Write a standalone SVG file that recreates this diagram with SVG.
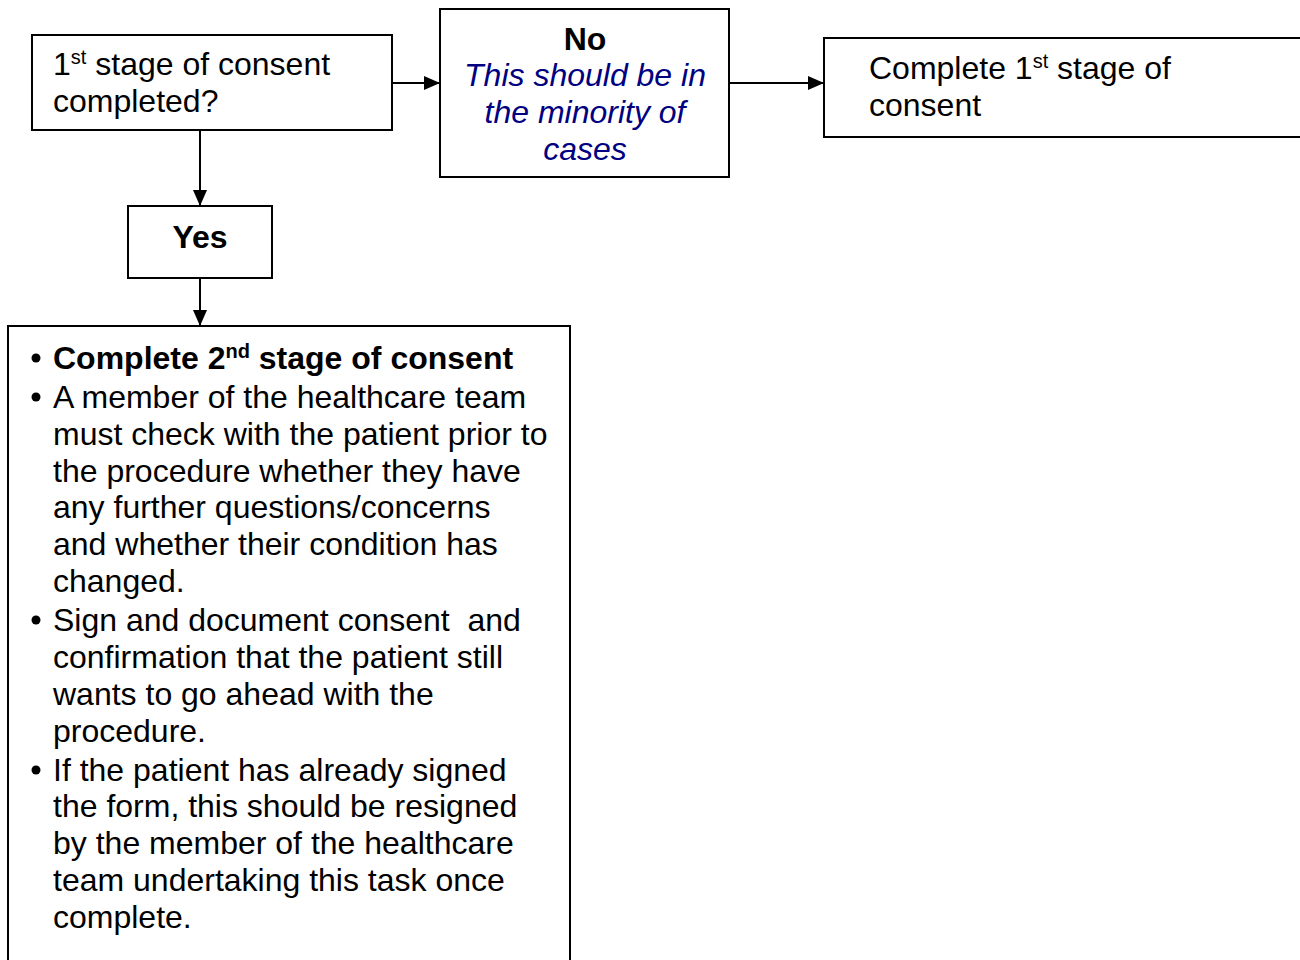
<svg xmlns="http://www.w3.org/2000/svg" width="1300" height="960" viewBox="0 0 1300 960">
<style>
.box{fill:#fff;stroke:#000;stroke-width:2}
.t{font-family:"Liberation Sans",Arial,sans-serif;font-size:32px;fill:#000}
.b{font-weight:bold}
.it{font-style:italic;fill:#000080}
.sup{font-size:20px}
.conn{stroke:#000;stroke-width:2;fill:none}
.dot{fill:#000}
</style>
<defs>
<marker id="arr" markerUnits="userSpaceOnUse" markerWidth="16" markerHeight="16" viewBox="0 0 16 16" refX="16" refY="8" orient="auto">
<path d="M0,1 L16,8 L0,15 z" fill="#000"/>
</marker>
</defs>
<rect width="1300" height="960" fill="#fff"/>
<g id="connectors">
<line class="conn" x1="393" y1="83" x2="440" y2="83" marker-end="url(#arr)"/>
<line class="conn" x1="729" y1="83" x2="824" y2="83" marker-end="url(#arr)"/>
<line class="conn" x1="200" y1="131" x2="200" y2="206" marker-end="url(#arr)"/>
<line class="conn" x1="200" y1="279" x2="200" y2="326" marker-end="url(#arr)"/>
</g>
<g id="q1">
<rect class="box" x="32" y="35" width="360" height="95"/>
<text class="t" x="53" y="75">1<tspan class="sup" dy="-11">st</tspan><tspan dy="11"> stage of consent</tspan></text>
<text class="t" x="53" y="112">completed?</text>
</g>
<g id="no">
<rect class="box" x="440" y="9" width="289" height="168"/>
<text class="t b" x="585" y="50" text-anchor="middle">No</text>
<text class="t it" x="585" y="86" text-anchor="middle">This should be in</text>
<text class="t it" x="585" y="123" text-anchor="middle">the minority of</text>
<text class="t it" x="585" y="160" text-anchor="middle">cases</text>
</g>
<g id="complete1">
<rect class="box" x="824" y="38" width="490" height="99"/>
<text class="t" x="869" y="79">Complete 1<tspan class="sup" dy="-11">st</tspan><tspan dy="11"> stage of</tspan></text>
<text class="t" x="869" y="116">consent</text>
</g>
<g id="yes">
<rect class="box" x="128" y="206" width="144" height="72"/>
<text class="t b" x="200" y="248" text-anchor="middle">Yes</text>
</g>
<g id="stage2">
<rect class="box" x="8" y="326" width="562" height="650"/>
<circle class="dot" cx="36" cy="358" r="4.5"/>
<text class="t b" x="53" y="369">Complete 2<tspan class="sup" dy="-11">nd</tspan><tspan dy="11"> stage of consent</tspan></text>
<circle class="dot" cx="36" cy="397" r="4.5"/>
<text class="t" x="53" y="408">A member of the healthcare team</text>
<text class="t" x="53" y="445">must check with the patient prior to</text>
<text class="t" x="53" y="482">the procedure whether they have</text>
<text class="t" x="53" y="518">any further questions/concerns</text>
<text class="t" x="53" y="555">and whether their condition has</text>
<text class="t" x="53" y="592">changed.</text>
<circle class="dot" cx="36" cy="620" r="4.5"/>
<text class="t" x="53" y="631" xml:space="preserve">Sign and document consent  and</text>
<text class="t" x="53" y="668">confirmation that the patient still</text>
<text class="t" x="53" y="705">wants to go ahead with the</text>
<text class="t" x="53" y="742">procedure.</text>
<circle class="dot" cx="36" cy="770" r="4.5"/>
<text class="t" x="53" y="781">If the patient has already signed</text>
<text class="t" x="53" y="817">the form, this should be resigned</text>
<text class="t" x="53" y="854">by the member of the healthcare</text>
<text class="t" x="53" y="891">team undertaking this task once</text>
<text class="t" x="53" y="928">complete.</text>
</g>
</svg>
